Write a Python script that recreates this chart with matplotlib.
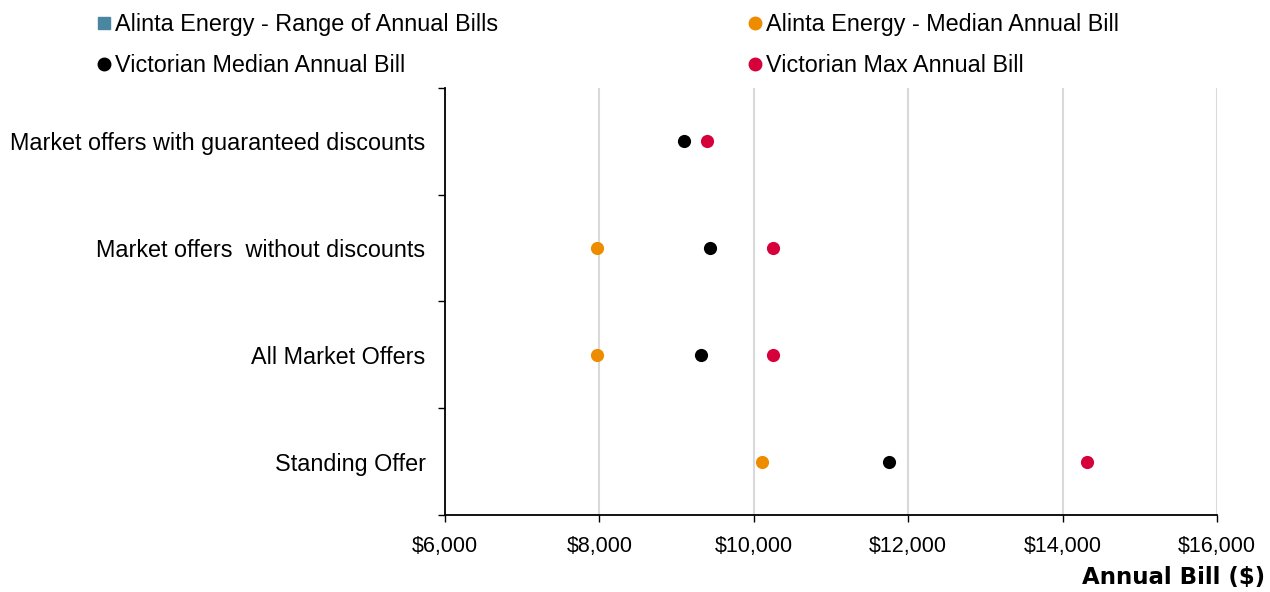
import matplotlib

matplotlib.use("Agg")
import matplotlib.pyplot as plt  # noqa: E402
import numpy as np  # noqa: E402
from matplotlib.lines import Line2D  # noqa: E402
from matplotlib.ticker import FuncFormatter  # noqa: E402

plt.rcParams["font.family"] = ["Liberation Sans", "DejaVu Sans"]

# categories, bottom to top
categories = [
    "Standing Offer",
    "All Market Offers",
    "Market offers  without discounts",
    "Market offers with guaranteed discounts",
]
alinta_median = [10106, 7970, 7970, np.nan]
vic_median = [11751, 9316, 9433, 9096]
vic_max = [14316, 10249, 10249, 9394]
# range bars have no visible extent in the source
alinta_range_low = [np.nan, np.nan, np.nan, np.nan]
alinta_range_high = [np.nan, np.nan, np.nan, np.nan]

x_ticks = [6000, 8000, 10000, 12000, 14000, 16000]

C_RANGE = "#4a86a0"
C_ALINTA = "#ee8c00"
C_VMED = "#000000"
C_VMAX = "#d6003a"

fig = plt.figure(figsize=(12.7, 5.92), dpi=100)
ax = fig.add_axes([0.3504, 0.1301, 0.6079, 0.7213])

y = np.arange(len(categories)) + 0.5
ax.barh(y, np.subtract(alinta_range_high, alinta_range_low), left=alinta_range_low,
        height=0.4, color=C_RANGE)
ax.scatter(alinta_median, y, s=90, color=C_ALINTA, zorder=3, linewidths=0)
ax.scatter(vic_median, y, s=90, color=C_VMED, zorder=3, linewidths=0)
ax.scatter(vic_max, y, s=90, color=C_VMAX, zorder=3, linewidths=0)

ax.set_xlim(x_ticks[0], x_ticks[-1])
ax.set_ylim(0, len(categories))
ax.set_xticks(x_ticks)
ax.xaxis.set_major_formatter(FuncFormatter(lambda v, _p: f"${v:,.0f}"))
ax.tick_params(axis="x", labelsize=15.5, length=5, width=1, pad=10)

ax.set_yticks(np.arange(len(categories) + 1))
ax.set_yticklabels([])
ax.set_yticks(y, minor=True)
ax.set_yticklabels(categories, minor=True, fontsize=16.8)
ax.tick_params(axis="y", which="major", length=5, width=1)
ax.tick_params(axis="y", which="minor", length=0, pad=14)

ax.grid(True, axis="x", color="#d9d9d9", linewidth=1.5)
ax.set_axisbelow(True)
for side in ("top", "right"):
    ax.spines[side].set_visible(False)
for side in ("left", "bottom"):
    ax.spines[side].set_linewidth(1.3)

fig.text(0.996, 0.024, "Annual Bill ($)", ha="right", va="center",
         fontsize=16.5, fontweight="bold", family="DejaVu Sans")

handles = [
    Line2D([], [], marker="s", linestyle="", color=C_RANGE, markersize=8),
    Line2D([], [], marker="o", linestyle="", color=C_VMED, markersize=9),
    Line2D([], [], marker="o", linestyle="", color=C_ALINTA, markersize=9),
    Line2D([], [], marker="o", linestyle="", color=C_VMAX, markersize=9),
]
labels = [
    "Alinta Energy - Range of Annual Bills",
    "Victorian Median Annual Bill",
    "Alinta Energy - Median Annual Bill",
    "Victorian Max Annual Bill",
]
fig.legend(handles, labels, ncol=2, loc="upper left", bbox_to_anchor=(0.060, 1.014),
           frameon=False, fontsize=16.8, handlelength=0.55, handletextpad=0.2,
           columnspacing=10.75, labelspacing=0.8)

fig.savefig("out.png", dpi=100)
